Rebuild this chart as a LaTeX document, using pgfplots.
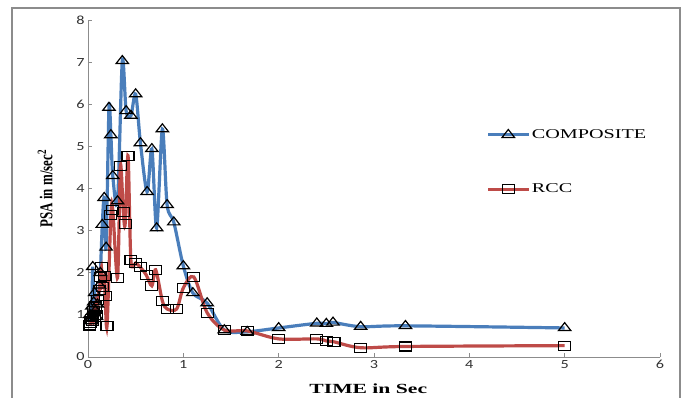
\documentclass[border=0pt]{standalone}
\usepackage{fontspec}
\setmainfont{Liberation Serif}
\newfontfamily\tickfont{Carlito}
\usepackage{graphicx}
\usepackage{pgfplots}
\pgfplotsset{compat=1.18}
\definecolor{cblue}{HTML}{4A7EBB}
\definecolor{cred}{HTML}{BE4B48}
\definecolor{axgray}{HTML}{8C8C8C}
\newcommand{\tl}[1]{\scalebox{1.3}[1]{#1}}
\pgfplotstableread{
x y
0.02 1.00
0.03 0.85
0.04 1.20
0.05 2.14
0.06 1.30
0.07 1.52
0.08 1.10
0.09 0.95
0.10 1.25
0.12 1.70
0.13 2.00
0.15 3.14
0.17 3.78
0.19 2.60
0.22 5.92
0.24 5.27
0.26 4.30
0.31 3.70
0.36 7.03
0.40 5.84
0.45 5.73
0.50 6.24
0.55 5.08
0.62 3.92
0.67 4.94
0.72 3.06
0.78 5.41
0.83 3.61
0.90 3.20
1.00 2.16
1.10 1.52
1.25 1.28
1.43 0.64
1.67 0.60
2.00 0.69
2.40 0.80
2.50 0.79
2.57 0.82
2.86 0.72
3.33 0.74
5.00 0.69
}\composite
\pgfplotstableread{
x y
0.02 0.75
0.03 0.80
0.04 0.90
0.05 0.85
0.06 1.10
0.07 0.95
0.08 1.20
0.09 1.00
0.10 1.35
0.12 1.60
0.13 1.90
0.14 2.14
0.15 1.66
0.17 1.93
0.18 1.45
0.20 0.74
0.24 3.37
0.26 3.49
0.31 1.88
0.34 4.54
0.37 3.45
0.39 3.16
0.42 4.78
0.45 2.30
0.50 2.23
0.55 2.13
0.61 1.95
0.67 1.69
0.71 2.07
0.78 1.33
0.83 1.14
0.93 1.14
1.00 1.64
1.11 1.90
1.25 1.05
1.43 0.64
1.67 0.62
2.00 0.43
2.40 0.43
2.50 0.38
2.58 0.36
2.86 0.22
3.33 0.25
5.00 0.27
}\rcc
\begin{document}
\begin{tikzpicture}
\useasboundingbox (-88bp,-41bp) rectangle (596bp,357bp);
\draw[axgray, line width=1.5bp] (-76bp,-41bp) -- (-76bp,349bp) -- (592bp,349bp) -- (592bp,-41bp);
\begin{axis}[
  at={(0,0)}, anchor=south west,
  scale only axis, width=572bp, height=337bp,
  xmin=0, xmax=6, ymin=0, ymax=8,
  xtick={0,1,2,3,4,5,6}, ytick={0,1,2,3,4,5,6,7,8},
  xticklabels={\tl{0},\tl{1},\tl{2},\tl{3},\tl{4},\tl{5},\tl{6}},
  yticklabels={\tl{0},\tl{1},\tl{2},\tl{3},\tl{4},\tl{5},\tl{6},\tl{7},\tl{8}},
  ticklabel style={font=\tickfont\fontsize{12.5}{14}\selectfont, text=black!80},
  axis lines*=left,
  axis line style={axgray, line width=0.9bp},
  tick style={axgray, line width=0.9bp},
  tick align=inside, major tick length=4bp,
  xlabel={\scalebox{1.55}[1]{\bfseries TIME in Sec}},
  xlabel style={font=\fontsize{14}{16}\selectfont, at={(axis description cs:0.49,-0.095)}, anchor=center},
  ylabel={\scalebox{1}[1.4]{\bfseries PSA in m/sec\textsuperscript{2}}},
  ylabel style={font=\fontsize{13}{15}\selectfont, at={(axis description cs:-0.075,0.5)}, anchor=center},
  legend style={draw=none, fill=none, at={(axis cs:4.18,4.63)}, anchor=west, inner sep=0pt,
    font=\fontsize{13.5}{15}\selectfont, row sep=40bp, cells={anchor=west}},
  legend image code/.code={\draw[mark repeat=2,mark phase=2] plot coordinates {(0bp,0bp) (20bp,0bp) (40bp,0bp)};},
]
\addplot[cblue, line width=3.2bp, smooth, tension=0.5, mark=triangle, mark size=5.3bp,
  mark options={fill=white, draw=black, line width=1.2bp, solid, xscale=1.35}] table[x=x,y=y] {\composite};
\addlegendentry{\scalebox{1.5}[1]{COMPOSITE}}
\addplot[cred, line width=3.2bp, smooth, tension=0.5, mark=square, mark size=4.5bp,
  mark options={fill=white, draw=black, line width=1.2bp, solid, xscale=1.33}] table[x=x,y=y] {\rcc};
\addlegendentry{\scalebox{1.5}[1]{RCC}}
\end{axis}
\end{tikzpicture}
\end{document}
